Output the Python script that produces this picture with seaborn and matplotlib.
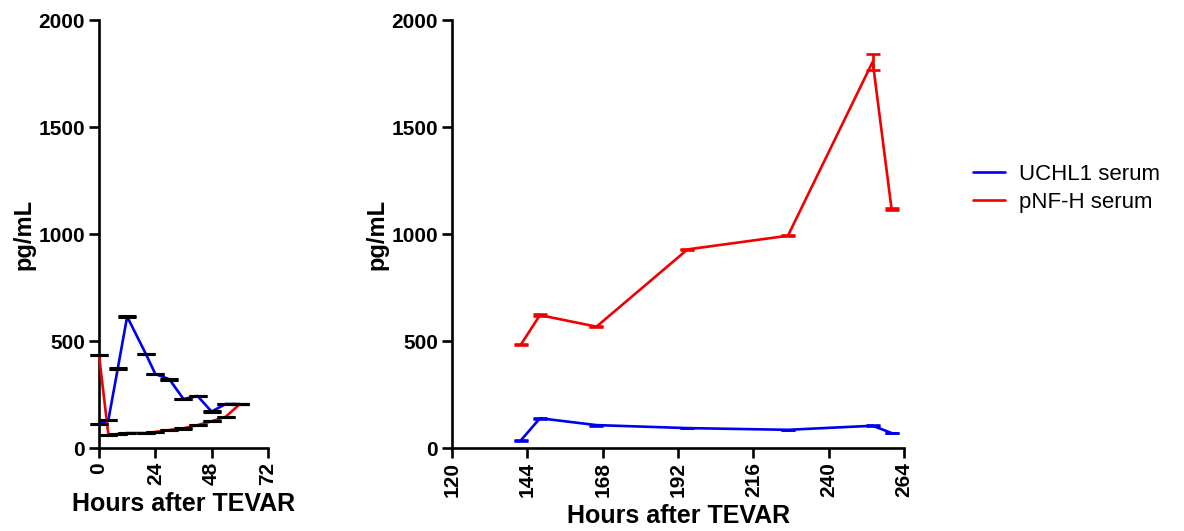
import numpy as np
import pandas as pd
import matplotlib as mpl
import matplotlib.pyplot as plt
import seaborn as sns

# early phase (0-72 h)
early_hours = [0, 4, 8, 12, 20, 24, 30, 36, 42, 48, 54, 60]
early_uchl1 = [111, 131, 371, 614, 439, 346, 321, 229, 243, 170, 206, 205]
early_uchl1_err = [1, 1, 1, 2, 1, 1, 1, 1, 1, 1, 1, 1]
early_pnfh = [435, 62, 65, 70, 70, 75, 84, 92, 107, 125, 146, 205]
early_pnfh_err = [1, 1, 1, 1, 1, 1, 1, 1, 1, 1, 1, 1]

# late phase (120-264 h)
late_hours = [142, 148, 166, 195, 227, 254, 260]
late_uchl1 = [37, 139, 107, 93, 85, 104, 70]
late_uchl1_err = [2, 3, 2, 1, 1, 2, 2]
late_pnfh = [485, 621, 567, 928, 992, 1805, 1117]
late_pnfh_err = [3, 3, 3, 3, 3, 38, 3]

sns.set_style('ticks')
mpl.rcParams['font.family'] = ['Liberation Sans', 'DejaVu Sans']
for key in ['text.color', 'axes.labelcolor', 'xtick.color', 'ytick.color', 'axes.edgecolor']:
    mpl.rcParams[key] = 'black'
mpl.rcParams['axes.linewidth'] = 1.9
mpl.rcParams['xtick.major.width'] = 1.9
mpl.rcParams['ytick.major.width'] = 1.9
mpl.rcParams['xtick.major.size'] = 7
mpl.rcParams['ytick.major.size'] = 7

blue = '#0000f0'
red = '#f00000'

fig = plt.figure(figsize=(11.84, 5.31), dpi=100)
ax1 = fig.add_axes([0.0836, 0.1563, 0.1427, 0.806])
ax2 = fig.add_axes([0.3818, 0.1563, 0.3818, 0.806])

early = pd.DataFrame({'h': early_hours, 'u': early_uchl1, 'p': early_pnfh})
late = pd.DataFrame({'h': late_hours, 'u': late_uchl1, 'p': late_pnfh})

# left panel
sns.lineplot(data=early, x='h', y='u', color=blue, lw=1.9, ax=ax1, clip_on=False, zorder=3)
sns.lineplot(data=early, x='h', y='p', color=red, lw=1.9, ax=ax1, clip_on=False, zorder=3)
ax1.errorbar(early_hours, early_uchl1, yerr=early_uchl1_err, fmt='none', ecolor='black',
             elinewidth=1.9, capsize=6.5, capthick=2.2, clip_on=False, zorder=4)
ax1.errorbar(early_hours, early_pnfh, yerr=early_pnfh_err, fmt='none', ecolor='black',
             elinewidth=1.9, capsize=6.5, capthick=2.2, clip_on=False, zorder=4)
ax1.set_xlim(0, 72)
ax1.set_xticks([0, 24, 48, 72])

# right panel
sns.lineplot(data=late, x='h', y='u', color=blue, lw=1.9, ax=ax2, label='UCHL1 serum')
sns.lineplot(data=late, x='h', y='p', color=red, lw=1.9, ax=ax2, label='pNF-H serum')
ax2.errorbar(late_hours, late_uchl1, yerr=late_uchl1_err, fmt='none', ecolor=blue,
             elinewidth=1.9, capsize=5, capthick=1.9)
ax2.errorbar(late_hours, late_pnfh, yerr=late_pnfh_err, fmt='none', ecolor=red,
             elinewidth=1.9, capsize=5, capthick=1.9)
ax2.set_xlim(120, 264)
ax2.set_xticks(range(120, 265, 24))

for ax in (ax1, ax2):
    ax.set_ylim(0, 2000)
    ax.set_yticks([0, 500, 1000, 1500, 2000])
    sns.despine(ax=ax)
    ax.set_ylabel('pg/mL', fontsize=17, fontweight='bold', labelpad=2)
    ax.set_xlabel('Hours after TEVAR', fontsize=18, fontweight='bold', labelpad=5)
    for lab in ax.get_xticklabels():
        lab.set_rotation(90)
    ax.tick_params(labelsize=15, pad=3)
    for lab in ax.get_xticklabels() + ax.get_yticklabels():
        lab.set_fontweight('bold')

handles, labels = ax2.get_legend_handles_labels()
ax2.get_legend().remove()
fig.legend(handles, labels, loc='center left', bbox_to_anchor=(0.805, 0.645),
           frameon=False, fontsize=16, handlelength=1.45, handletextpad=0.6,
           labelspacing=0.3)

plt.savefig('out.png', dpi=100)
